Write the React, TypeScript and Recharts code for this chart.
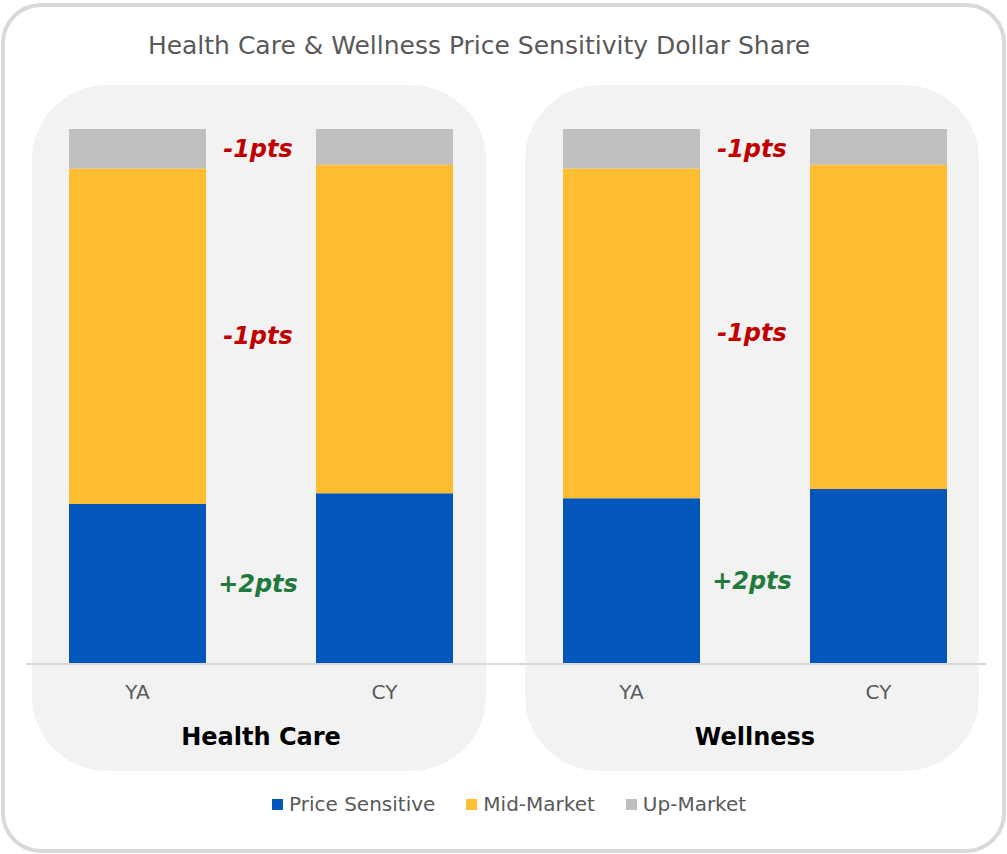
import { Bar, BarChart, LabelList, ReferenceLine, XAxis, YAxis } from "recharts";

const groups = ["Health Care", "Wellness"];
const periods = ["YA", "CY"];
const priceSensitive = [29.9, 31.9, 31.0, 32.7];
const midMarket = [62.7, 61.4, 61.6, 60.6];
const upMarket = [7.4, 6.7, 7.4, 6.7];

const seriesNames = ["Price Sensitive", "Mid-Market", "Up-Market"];
const seriesColors = ["#0457BA", "#FFBE32", "#BFBFBF"];

const FONT = "'DejaVu Sans', Verdana, sans-serif";

const data = groups.flatMap((group, gi) =>
  periods.map((period, pi) => {
    const i = gi * periods.length + pi;
    return {
      key: `${group}|${period}`,
      group,
      period,
      ps: priceSensitive[i],
      mid: midMarket[i],
      up: upMarket[i],
    };
  })
);

// change CY vs YA, per group, rounded to whole points
const deltaOf = (values: number[], index: number) =>
  Math.round(values[index + 1] - values[index]);

function changeLabel(values: number[]) {
  return (props: any) => {
    const { x, y, width, height, index } = props;
    if (index % 2 !== 0) return null;
    const d = deltaOf(values, index);
    return (
      <text
        x={Number(x) + Number(width) + 52}
        y={Number(y) + Number(height) / 2}
        textAnchor="middle"
        dominantBaseline="central"
        fill={d >= 0 ? "#217A3C" : "#C00000"}
        fontFamily={FONT}
        fontSize={24}
        fontWeight="bold"
        fontStyle="italic"
      >
        {`${d > 0 ? "+" : ""}${d}pts`}
      </text>
    );
  };
}

const PeriodTick = ({ x, y, payload }: any) => (
  <text
    x={x}
    y={y + 28}
    textAnchor="middle"
    dominantBaseline="central"
    fill="#595959"
    fontFamily={FONT}
    fontSize={20}
  >
    {String(payload.value).split("|")[1]}
  </text>
);

const GroupTick = ({ x, y, payload }: any) => (
  <text
    x={x}
    y={y + 33}
    textAnchor="middle"
    dominantBaseline="central"
    fill="#000"
    fontFamily={FONT}
    fontSize={24}
    fontWeight="bold"
  >
    {payload.value}
  </text>
);

export default function App() {
  return (
    <div
      style={{
        position: "absolute",
        left: 0,
        top: 0,
        width: 1007,
        height: 854,
        background: "#fff",
        fontFamily: FONT,
      }}
    >
      <div
        style={{
          position: "absolute",
          left: 1,
          top: 3,
          width: 1005,
          height: 850,
          border: "4px solid #D9D9D9",
          borderRadius: 40,
          boxSizing: "border-box",
        }}
      />
      <div
        style={{
          position: "absolute",
          left: 0,
          width: 958,
          top: 30,
          textAlign: "center",
          fontSize: 25,
          color: "#595959",
          lineHeight: "32px",
        }}
      >
        Health Care &amp; Wellness Price Sensitivity Dollar Share
      </div>
      {[32, 525].map((left) => (
        <div
          key={left}
          style={{
            position: "absolute",
            left,
            top: 85,
            width: 454,
            height: 686,
            background: "#F2F2F2",
            borderRadius: 75,
          }}
        />
      ))}
      <div style={{ position: "absolute", left: 0, top: 0 }}>
        <BarChart
          width={1007}
          height={854}
          data={data}
          margin={{ top: 129, right: 5, left: 14, bottom: 90 }}
        >
          <XAxis
            xAxisId={0}
            dataKey="key"
            axisLine={false}
            tickLine={false}
            tickSize={0}
            tickMargin={0}
            height={40}
            interval={0}
            tick={PeriodTick}
          />
          <XAxis
            xAxisId={1}
            dataKey="group"
            allowDuplicatedCategory={false}
            axisLine={false}
            tickLine={false}
            tickSize={0}
            tickMargin={0}
            height={60}
            interval={0}
            tick={GroupTick}
          />
          <YAxis hide domain={[0, 100]} />
          <Bar
            xAxisId={0}
            dataKey="ps"
            name={seriesNames[0]}
            stackId="a"
            fill={seriesColors[0]}
            barSize={137}
            isAnimationActive={false}
          >
            <LabelList content={changeLabel(priceSensitive)} />
          </Bar>
          <Bar
            xAxisId={0}
            dataKey="mid"
            name={seriesNames[1]}
            stackId="a"
            fill={seriesColors[1]}
            barSize={137}
            isAnimationActive={false}
          >
            <LabelList content={changeLabel(midMarket)} />
          </Bar>
          <Bar
            xAxisId={0}
            dataKey="up"
            name={seriesNames[2]}
            stackId="a"
            fill={seriesColors[2]}
            barSize={137}
            isAnimationActive={false}
          >
            <LabelList content={changeLabel(upMarket)} />
          </Bar>
          <ReferenceLine
            xAxisId={0}
            y={0}
            shape={(p: any) => (
              <line
                x1={p.x1 + 12}
                x2={p.x2 - 16}
                y1={p.y1}
                y2={p.y2}
                stroke="#D9D9D9"
                strokeWidth={2}
              />
            )}
          />
        </BarChart>
      </div>
      <div
        style={{
          position: "absolute",
          left: 272,
          top: 791,
          display: "flex",
          alignItems: "center",
          fontSize: 20,
          color: "#595959",
          lineHeight: "26px",
        }}
      >
        {seriesNames.map((name, i) => (
          <div
            key={name}
            style={{ display: "flex", alignItems: "center", marginRight: 31 }}
          >
            <span
              style={{
                width: 11,
                height: 11,
                background: seriesColors[i],
                marginRight: 6,
                display: "inline-block",
              }}
            />
            {name}
          </div>
        ))}
      </div>
    </div>
  );
}
